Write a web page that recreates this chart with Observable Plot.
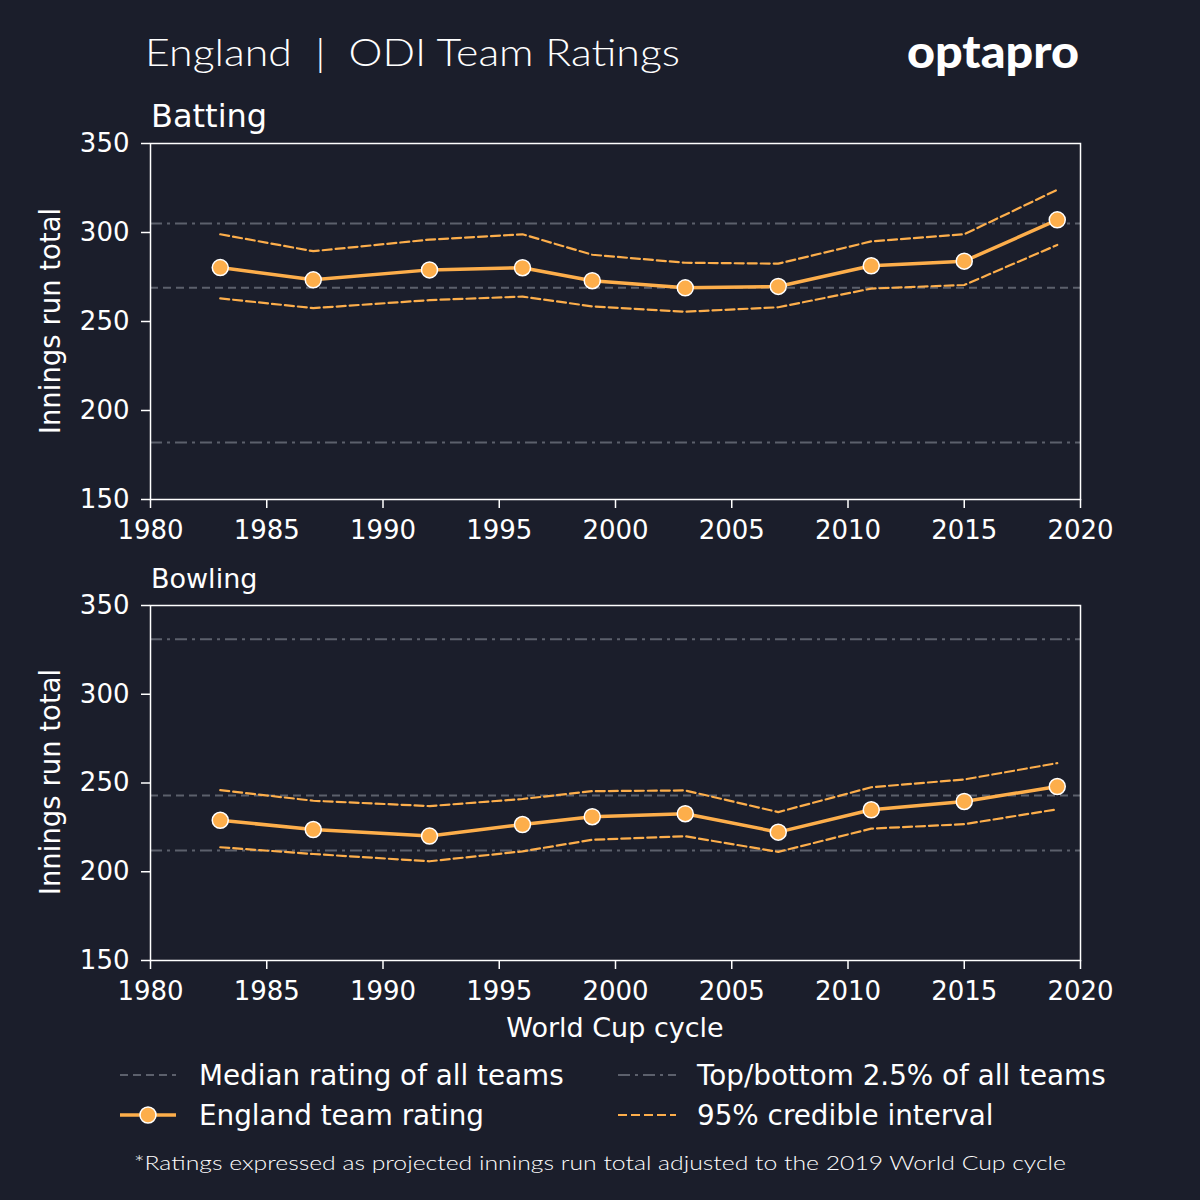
<!DOCTYPE html>
<html><head><meta charset="utf-8">
<script src="https://cdn.jsdelivr.net/npm/d3@7"></script>
<script src="https://cdn.jsdelivr.net/npm/@observablehq/plot@0.6"></script>
<style>
body{margin:0;background:#1b1e2b;}
#root{position:relative;width:1200px;height:1200px;background:#1b1e2b;overflow:hidden;font-family:"DejaVu Sans";color:#fff;}
#root > svg{position:absolute;left:0;}
</style></head><body><div id="root"></div>
<script>
const years = [1983, 1987, 1992, 1996, 1999, 2003, 2007, 2011, 2015, 2019];
const batRating = [280.3, 273.4, 279.0, 280.2, 272.9, 268.9, 269.7, 281.3, 283.9, 307.1];
const batUpper  = [299.0, 289.5, 296.0, 299.0, 287.5, 283.0, 282.5, 295.0, 299.0, 324.0];
const batLower  = [263.0, 257.5, 262.0, 264.0, 258.5, 255.5, 258.0, 268.5, 270.5, 293.0];
const bowlRating = [229.0, 223.8, 220.1, 226.6, 231.0, 232.7, 222.3, 234.9, 239.6, 248.0];
const bowlUpper  = [246.0, 240.0, 237.0, 241.0, 245.4, 245.8, 233.6, 247.6, 252.0, 261.2];
const bowlLower  = [213.8, 210.0, 205.9, 211.5, 218.0, 220.0, 211.2, 224.3, 226.8, 235.2];
const batMedian = 269, batTop = 305, batBottom = 182;
const bowlMedian = 243, bowlTop = 331, bowlBottom = 212;
const xTicks = [1980, 1985, 1990, 1995, 2000, 2005, 2010, 2015, 2020];
const yTicks = [150, 200, 250, 300, 350];
const panelTitles = ["Batting", "Bowling"];
const yLabel = "Innings run total";
const xLabel = "World Cup cycle";
const legendLabels = ["Median rating of all teams", "Top/bottom 2.5% of all teams", "England team rating", "95% credible interval"];
const titleText = "England  |  ODI Team Ratings";
const footText = "*Ratings expressed as projected innings run total adjusted to the 2019 World Cup cycle";

const orange = "#fdae4b", gray = "#5c606c", bg = "#1b1e2b";

function panel(rating, upper, lower, med, top, bot, mt, ph) {
  const rows = years.map((y, i) => ({year: y, rating: rating[i], upper: upper[i], lower: lower[i]}));
  const fmt = d => String(d);
  return Plot.plot({
    width: 1200, height: mt + ph + 50,
    marginTop: mt, marginBottom: 50, marginLeft: 150, marginRight: 120,
    style: {background: "transparent", color: "#fff", fontFamily: "DejaVu Sans", fontSize: "26px", overflow: "visible"},
    x: {domain: [1980, 2020], label: null},
    y: {domain: [150, 350], label: null},
    marks: [
      Plot.ruleY([med], {stroke: gray, strokeWidth: 2, strokeDasharray: "8,5"}),
      Plot.ruleY([top, bot], {stroke: gray, strokeWidth: 2, strokeDasharray: "12,5,3,5"}),
      Plot.lineY(rows, {x: "year", y: "upper", stroke: orange, strokeWidth: 2.2, strokeDasharray: "9,4"}),
      Plot.lineY(rows, {x: "year", y: "lower", stroke: orange, strokeWidth: 2.2, strokeDasharray: "9,4"}),
      Plot.lineY(rows, {x: "year", y: "rating", stroke: orange, strokeWidth: 3.5}),
      Plot.dot(rows, {x: "year", y: "rating", r: 8, fill: orange, stroke: "#fff", strokeWidth: 1.5}),
      Plot.axisX({ticks: xTicks, tickFormat: fmt, tickSize: 9, tickPadding: 12, label: null, stroke: "#fff", strokeWidth: 1.5}),
      Plot.axisY({ticks: yTicks, tickFormat: fmt, tickSize: 9, tickPadding: 12, label: null, stroke: "#fff", strokeWidth: 1.5}),
      Plot.frame({stroke: "#fff", strokeWidth: 1.5})
    ]
  });
}

const root = document.getElementById("root");
const p1 = panel(batRating, batUpper, batLower, batMedian, batTop, batBottom, 43, 356);
p1.style.top = "100px";
root.appendChild(p1);
const p2 = panel(bowlRating, bowlUpper, bowlLower, bowlMedian, bowlTop, bowlBottom, 45, 355);
p2.style.top = "560px";
root.appendChild(p2);

// overlay for texts and legend
const ns = "http://www.w3.org/2000/svg";
const ov = document.createElementNS(ns, "svg");
ov.setAttribute("width", 1200); ov.setAttribute("height", 1200);
ov.style.position = "absolute"; ov.style.top = "0"; ov.style.left = "0";
root.appendChild(ov);
function el(tag, attrs, text) {
  const e = document.createElementNS(ns, tag);
  for (const k in attrs) e.setAttribute(k, attrs[k]);
  if (text != null) e.textContent = text;
  ov.appendChild(e);
  return e;
}
const light = "Lato, 'Open Sans', sans-serif";
el("text", {x: 145, y: 66, fill: "#fff", "font-family": light, "font-weight": 300, "font-size": 38, textLength: 535, lengthAdjust: "spacingAndGlyphs", style: "white-space:pre"}, titleText);
el("text", {x: 907, y: 68, fill: "#fff", "font-family": "Lato, 'Open Sans', sans-serif", "font-weight": 900, "font-size": 46, textLength: 172, lengthAdjust: "spacingAndGlyphs"}, "optapro");
el("text", {x: 151, y: 127, fill: "#fff", "font-family": "DejaVu Sans", "font-size": 32}, panelTitles[0]);
el("text", {x: 151, y: 588, fill: "#fff", "font-family": "DejaVu Sans", "font-size": 27}, panelTitles[1]);
el("text", {transform: "translate(60,321) rotate(-90)", "text-anchor": "middle", fill: "#fff", "font-family": "DejaVu Sans", "font-size": 27.5}, yLabel);
el("text", {transform: "translate(60,782) rotate(-90)", "text-anchor": "middle", fill: "#fff", "font-family": "DejaVu Sans", "font-size": 27.5}, yLabel);
el("text", {x: 615, y: 1037, "text-anchor": "middle", fill: "#fff", "font-family": "DejaVu Sans", "font-size": 27}, xLabel);

// legend
const lf = {fill: "#fff", "font-family": "DejaVu Sans", "font-size": 27.8};
el("line", {x1: 120, x2: 176, y1: 1075, y2: 1075, stroke: gray, "stroke-width": 2, "stroke-dasharray": "8,5"});
el("text", {x: 199, y: 1085, ...lf}, legendLabels[0]);
el("line", {x1: 618, x2: 676, y1: 1075, y2: 1075, stroke: gray, "stroke-width": 2, "stroke-dasharray": "12,5,3,5"});
el("text", {x: 697, y: 1085, ...lf}, legendLabels[1]);
el("line", {x1: 120, x2: 176, y1: 1115, y2: 1115, stroke: orange, "stroke-width": 3.5});
el("circle", {cx: 148, cy: 1115, r: 8, fill: orange, stroke: "#fff", "stroke-width": 1.5});
el("text", {x: 199, y: 1125, ...lf}, legendLabels[2]);
el("line", {x1: 618, x2: 676, y1: 1115, y2: 1115, stroke: orange, "stroke-width": 2.2, "stroke-dasharray": "9,4"});
el("text", {x: 697, y: 1125, ...lf}, legendLabels[3]);
el("text", {x: 600, y: 1170, "text-anchor": "middle", fill: "#fff", "font-family": light, "font-weight": 300, "font-size": 20, textLength: 932, lengthAdjust: "spacingAndGlyphs"}, footText);
</script></body></html>
